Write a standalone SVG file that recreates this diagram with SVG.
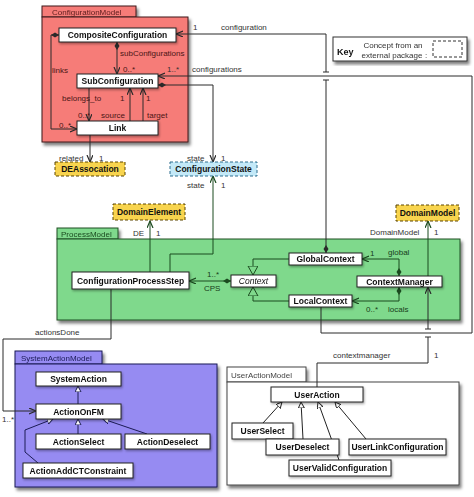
<svg xmlns="http://www.w3.org/2000/svg" width="474" height="497" viewBox="0 0 474 497">
<defs>
<filter id="sh" x="-10%" y="-10%" width="130%" height="130%"><feDropShadow dx="2" dy="3" stdDeviation="1.5" flood-color="#000" flood-opacity="0.5"/></filter>
<filter id="shs" x="-10%" y="-20%" width="130%" height="160%"><feDropShadow dx="1" dy="1.5" stdDeviation="0.8" flood-color="#000" flood-opacity="0.35"/></filter>
<marker id="arr" markerUnits="userSpaceOnUse" markerWidth="10" markerHeight="10" refX="7" refY="3" orient="auto"><path d="M0,0 L7,3 L0,6" fill="none" stroke="#2a2a2a" stroke-width="1.2"/></marker>
<marker id="arrG" markerUnits="userSpaceOnUse" markerWidth="10" markerHeight="10" refX="7" refY="3" orient="auto"><path d="M0,0 L7,3 L0,6" fill="none" stroke="#1b4a1f" stroke-width="1.2"/></marker>
<marker id="dia" markerUnits="userSpaceOnUse" markerWidth="10" markerHeight="8" refX="0" refY="3" orient="auto"><path d="M0,3 L4,0.5 L8,3 L4,5.5 z" fill="#2a2a2a"/></marker>
<marker id="diaG" markerUnits="userSpaceOnUse" markerWidth="10" markerHeight="8" refX="0" refY="3" orient="auto"><path d="M0,3 L4,0.5 L8,3 L4,5.5 z" fill="#1b4a1f"/></marker>
<marker id="tri" markerUnits="userSpaceOnUse" markerWidth="10" markerHeight="10" refX="6" refY="3" orient="auto"><path d="M0,0 L6,3 L0,6 z" fill="#fff" stroke="#2a2a2a" stroke-width="1"/></marker>
<marker id="triN" markerUnits="userSpaceOnUse" markerWidth="10" markerHeight="10" refX="6" refY="3" orient="auto"><path d="M0,0 L6,3 L0,6 z" fill="#fff" stroke="#1c1c55" stroke-width="1"/></marker>
<marker id="triG" markerUnits="userSpaceOnUse" markerWidth="14" markerHeight="14" refX="9" refY="5" orient="auto"><path d="M0,0 L9,5 L0,10 z" fill="#7fd98c" stroke="#1b4a1f" stroke-width="1"/></marker>
</defs>
<style>
text{font-family:"Liberation Sans",Arial,sans-serif}
.node rect{fill:#fff;stroke:#222;stroke-width:1}
.nt{font-size:8.5px;font-weight:bold;fill:#111;text-anchor:middle}
.ext rect{fill:#f8d44e;stroke:#5a4400;stroke-width:1;stroke-dasharray:3 2}
.cs rect{fill:#c3e9f8;stroke:#2f6f8f;stroke-width:1;stroke-dasharray:3 2}
.lbl{font-size:8px;fill:#333}
.lr{font-size:8px;fill:#4a1515}
.lg{font-size:8px;fill:#173d1a}
.tab{font-size:8px}
.c{fill:none;stroke:#2a2a2a;stroke-width:1}
.cg{fill:none;stroke:#1b4a1f;stroke-width:1}
.cn{fill:none;stroke:#1c1c55;stroke-width:1}
.cb{fill:none;stroke:#222;stroke-width:1}
</style>

<!-- packages -->
<g id="pkg-ConfigurationModel" filter="url(#sh)">
<rect x="42" y="6" width="94" height="11" fill="#f67b78" stroke="#3c1b1b"/>
<rect x="42" y="17" width="146" height="125" fill="#f67b78" stroke="#3c1b1b"/>
<text class="tab" x="52" y="15" fill="#5a1a1a">ConfigurationModel</text>
</g>
<g id="pkg-ProcessModel" filter="url(#sh)">
<rect x="57" y="228" width="61" height="11" fill="#7fd98c" stroke="#1f4f24"/>
<rect x="57" y="239" width="403" height="81" fill="#7fd98c" stroke="#1f4f24"/>
<text class="tab" x="61" y="237" fill="#1a4a1f">ProcessModel</text>
</g>
<g id="pkg-SystemActionModel" filter="url(#sh)">
<rect x="15" y="351" width="87" height="13" fill="#968bf2" stroke="#1a1a55"/>
<rect x="15" y="364" width="202" height="123" fill="#968bf2" stroke="#1a1a55"/>
<text class="tab" x="21" y="361" fill="#1a1a55">SystemActionModel</text>
</g>
<g id="pkg-UserActionModel" filter="url(#sh)">
<rect x="227" y="367" width="79" height="15" fill="#fff" stroke="#444"/>
<rect x="227" y="382" width="232" height="103" fill="#fff" stroke="#444"/>
<text class="tab" x="231" y="378" fill="#444">UserActionModel</text>
</g>
<g id="key" filter="url(#sh)">
<rect x="333" y="37" width="134" height="24" fill="#fff" stroke="#333"/>
<text x="337" y="55" font-size="9" font-weight="bold" fill="#111">Key</text>
<text x="393" y="48" font-size="8" fill="#333" text-anchor="middle">Concept from an</text>
<text x="392" y="58" font-size="8" fill="#333" text-anchor="middle">external package</text>
<text x="425" y="58" font-size="8" fill="#333">:</text>
<rect x="433" y="41" width="29" height="16" fill="#fff" stroke="#333" stroke-dasharray="3 2"/>
</g>

<!-- connectors -->
<g id="connectors">
<!-- ConfigurationModel internals -->
<path class="c" d="M59,35 L51,35 L51,129 L77,129" marker-start="url(#dia)" marker-end="url(#arr)"/>
<path class="c" d="M117,42 L117,74" marker-start="url(#dia)" marker-end="url(#arr)"/>
<path class="c" d="M89,88 L89,121" marker-end="url(#arr)"/>
<path class="c" d="M130,121 L130,88" marker-end="url(#arr)"/>
<path class="c" d="M143,121 L143,88" marker-end="url(#arr)"/>
<path class="c" d="M90,135 L90,162" marker-end="url(#arr)"/>
<path class="c" d="M158,85 L213,85 L213,162" marker-start="url(#dia)" marker-end="url(#arr)"/>
<!-- configuration (GlobalContext -> CompositeConfiguration) -->
<path class="c" d="M326,253 L326,80" marker-start="url(#dia)"/>
<path class="c" d="M323,80 L329,80"/>
<path class="c" d="M326,72 L326,34 L176,34" marker-end="url(#arr)"/>
<path class="c" d="M323,72 L329,72"/>
<!-- configurations (LocalContext -> SubConfiguration) -->
<path class="c" d="M321,307 L321,333 L472,333 L472,76 L158,76" marker-end="url(#arr)"/>
<!-- ProcessModel -->
<path class="cg" d="M170,272 L170,254 L213,254 L213,176" marker-end="url(#arrG)"/>
<path class="cg" d="M150,272 L150,221" marker-end="url(#arrG)"/>
<path class="cg" d="M231,281 L189,281" marker-start="url(#diaG)" marker-end="url(#arrG)"/>
<path class="cg" d="M289,259 L253,259 L253,275" marker-end="url(#triG)"/>
<path class="cg" d="M289,301 L253,301 L253,287" marker-end="url(#triG)"/>
<path class="cg" d="M399,276 L399,259 L362,259" marker-start="url(#diaG)" marker-end="url(#arrG)"/>
<path class="cg" d="M399,287 L399,301 L352,301" marker-start="url(#diaG)" marker-end="url(#arrG)"/>
<path class="cg" d="M428,276 L428,221" marker-end="url(#arrG)"/>
<!-- contextmanager -->
<path class="c" d="M317,387 L317,363 L428,363 L428,337"/>
<path class="c" d="M425,337 L431,337"/>
<path class="c" d="M428,329 L428,287" marker-end="url(#arr)"/>
<path class="c" d="M425,329 L431,329"/>
<!-- actionsDone -->
<path class="c" d="M111,289 L111,339 L3,339 L3,411 L36,411" marker-end="url(#arr)"/>
<!-- SystemActionModel -->
<path class="cn" d="M78,404 L78,386" marker-end="url(#triN)"/>
<path class="cn" d="M78,434 L78,419" marker-end="url(#triN)"/>
<path class="cn" d="M147,434 L103,419" marker-end="url(#triN)"/>
<path class="cn" d="M38,463 L25,452 L25,430 L53,419" marker-end="url(#triN)"/>
<!-- UserActionModel -->
<path class="cb" d="M263,423 L282,402" marker-end="url(#tri)"/>
<path class="cb" d="M303,439 L301,402" marker-end="url(#tri)"/>
<path class="cb" d="M339,460 L318,402" marker-end="url(#tri)"/>
<path class="cb" d="M366,439 L335,402" marker-end="url(#tri)"/>
</g>

<!-- labels -->
<g id="labels">
<text class="lr" x="52" y="73">links</text>
<text class="lr" x="120" y="56">subConfigurations</text>
<text class="lr" x="123" y="72">0..*</text>
<text class="lr" x="62" y="101">belongs_to</text>
<text class="lr" x="120" y="101">1</text>
<text class="lr" x="146" y="101">1</text>
<text class="lr" x="78" y="118">0..*</text>
<text class="lr" x="101" y="118">source</text>
<text class="lr" x="147" y="118">target</text>
<text class="lr" x="59" y="128">0..*</text>
<text class="lbl" x="167" y="72">1..*</text>
<text class="lbl" x="192" y="72">configurations</text>
<text class="lbl" x="193" y="30">1</text>
<text class="lbl" x="221" y="30">configuration</text>
<text class="lbl" x="59" y="161">related</text>
<text class="lbl" x="99" y="161">1</text>
<text class="lbl" x="187" y="161">state</text>
<text class="lbl" x="221" y="161">1</text>
<text class="lbl" x="187" y="188">state</text>
<text class="lbl" x="221" y="188">1</text>
<text class="lbl" x="133" y="236">DE</text>
<text class="lbl" x="156" y="236">1</text>
<text class="lg" x="207" y="277">1..*</text>
<text class="lg" x="204" y="291">CPS</text>
<text class="lg" x="370" y="256">1</text>
<text class="lg" x="388" y="255">global</text>
<text class="lg" x="366" y="312">0..*</text>
<text class="lg" x="388" y="312">locals</text>
<text class="lbl" x="370" y="235">DomainModel</text>
<text class="lbl" x="434" y="235">1</text>
<text class="lbl" x="333" y="358">contextmanager</text>
<text class="lbl" x="434" y="358">1</text>
<text class="lbl" x="35" y="335">actionsDone</text>
<text class="lbl" x="2" y="422" font-size="6">1..*</text>
</g>

<!-- nodes -->
<g id="CompositeConfiguration" class="node" filter="url(#shs)"><rect x="59" y="28" width="117" height="14"/><text class="nt" x="117.5" y="38">CompositeConfiguration</text></g>
<g id="SubConfiguration" class="node" filter="url(#shs)"><rect x="77" y="74" width="81" height="14"/><text class="nt" x="117.5" y="84">SubConfiguration</text></g>
<g id="Link" class="node" filter="url(#shs)"><rect x="77" y="121" width="81" height="14"/><text class="nt" x="117.5" y="131">Link</text></g>
<g id="DEAssocation" class="ext"><rect x="55" y="162" width="70" height="14"/><text class="nt" x="90" y="172">DEAssocation</text></g>
<g id="ConfigurationState" class="cs"><rect x="170" y="162" width="87" height="14"/><text class="nt" x="213.5" y="172">ConfigurationState</text></g>
<g id="DomainElement" class="ext"><rect x="113" y="204" width="72" height="16"/><text class="nt" x="149" y="215">DomainElement</text></g>
<g id="DomainModel" class="ext"><rect x="396" y="205" width="63" height="16"/><text class="nt" x="427.5" y="216">DomainModel</text></g>
<g id="ConfigurationProcessStep" class="node" filter="url(#shs)"><rect x="72" y="272" width="117" height="17"/><text class="nt" x="130.5" y="283.5">ConfigurationProcessStep</text></g>
<g id="Context" class="node" filter="url(#shs)"><rect x="231" y="275" width="45" height="12"/><text x="253.5" y="284" font-size="8.5" font-style="italic" fill="#111" text-anchor="middle">Context</text></g>
<g id="GlobalContext" class="node" filter="url(#shs)"><rect x="289" y="253" width="73" height="12"/><text class="nt" x="325.5" y="262">GlobalContext</text></g>
<g id="LocalContext" class="node" filter="url(#shs)"><rect x="289" y="295" width="63" height="12"/><text class="nt" x="320.5" y="304">LocalContext</text></g>
<g id="ContextManager" class="node" filter="url(#shs)"><rect x="357" y="276" width="85" height="11"/><text class="nt" x="399.5" y="284.5">ContextManager</text></g>
<g id="SystemAction" class="node" filter="url(#shs)"><rect x="36" y="372" width="85" height="14"/><text class="nt" x="78.5" y="382">SystemAction</text></g>
<g id="ActionOnFM" class="node" filter="url(#shs)"><rect x="36" y="404" width="85" height="15"/><text class="nt" x="78.5" y="414.5">ActionOnFM</text></g>
<g id="ActionSelect" class="node" filter="url(#shs)"><rect x="36" y="434" width="85" height="15"/><text class="nt" x="78.5" y="444.5">ActionSelect</text></g>
<g id="ActionDeselect" class="node" filter="url(#shs)"><rect x="125" y="434" width="85" height="15"/><text class="nt" x="167.5" y="444.5">ActionDeselect</text></g>
<g id="ActionAddCTConstraint" class="node" filter="url(#shs)"><rect x="23" y="463" width="110" height="15"/><text class="nt" x="78" y="473.5">ActionAddCTConstraint</text></g>
<g id="UserAction" class="node" filter="url(#shs)"><rect x="271" y="387" width="92" height="15"/><text class="nt" x="317" y="397.5">UserAction</text></g>
<g id="UserSelect" class="node" filter="url(#shs)"><rect x="232" y="423" width="61" height="16"/><text class="nt" x="262.5" y="434">UserSelect</text></g>
<g id="UserDeselect" class="node" filter="url(#shs)"><rect x="266" y="439" width="73" height="16"/><text class="nt" x="302.5" y="450">UserDeselect</text></g>
<g id="UserLinkConfiguration" class="node" filter="url(#shs)"><rect x="349" y="439" width="97" height="16"/><text class="nt" x="397.5" y="450">UserLinkConfiguration</text></g>
<g id="UserValidConfiguration" class="node" filter="url(#shs)"><rect x="289" y="460" width="102" height="16"/><text class="nt" x="340" y="471">UserValidConfiguration</text></g>
</svg>
